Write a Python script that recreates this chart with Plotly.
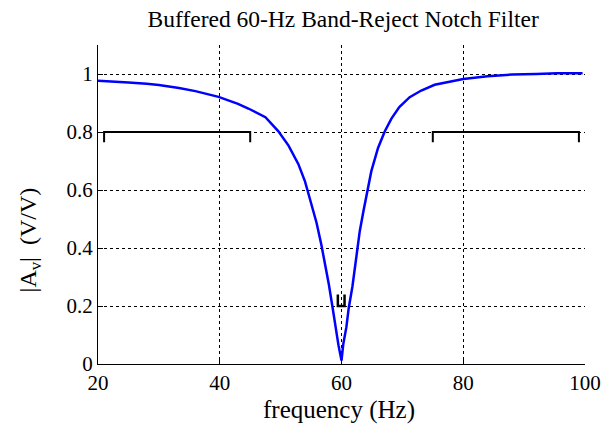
import plotly.graph_objects as go

freq_hz = [20, 22, 25, 28, 30, 33.3, 36, 39.8, 43, 44.7, 46, 47.5, 49.6, 51.3, 52.9,
           54.0, 54.4, 55.1, 55.9, 56.7, 57.3, 57.9, 58.5, 59.0, 59.5, 60.0, 60.3,
           60.8, 61.2, 61.8, 62.3, 62.6, 63.0, 63.6, 64.1, 64.9, 66.0, 67.1, 68.2,
           69.5, 71.2, 73.1, 75.3, 78.5, 80, 84, 88, 92, 95.4, 99.6]
gain_vv = [0.977, 0.975, 0.971, 0.966, 0.962, 0.952, 0.941, 0.921, 0.897, 0.881, 0.868,
           0.851, 0.803, 0.753, 0.690, 0.630, 0.600, 0.548, 0.487, 0.410, 0.345,
           0.277, 0.199, 0.130, 0.065, 0.012, 0.070, 0.127, 0.195, 0.268, 0.350,
           0.400, 0.458, 0.527, 0.585, 0.665, 0.745, 0.802, 0.846, 0.886, 0.920,
           0.943, 0.963, 0.978, 0.983, 0.992, 0.998, 1.000, 1.003, 1.003]

# Pass-band brackets
bracket_left_x = [21, 21, 45, 45]
bracket_right_x = [75, 75, 99, 99]
bracket_y = [0.765, 0.8, 0.8, 0.765]
# Small bracket at the notch
notch_x = [59.4, 59.4, 60.5, 60.5]
notch_y = [0.24, 0.2, 0.2, 0.24]

x_ticks = [20, 40, 60, 80, 100]
x_tick_text = ["20", "40", "60", "80", "100"]
y_ticks = [0, 0.2, 0.4, 0.6, 0.8, 1]
y_tick_text = ["0", "0.2", "0.4", "0.6", "0.8", "1"]

FONT = "Liberation Serif, Times New Roman, serif"


def serif(label):
    return "<span style=\"font-family:'Liberation Serif',serif\">" + label + "</span>"


fig = go.Figure()
fig.add_trace(go.Scatter(x=freq_hz, y=gain_vv, mode="lines",
                         line=dict(color="#0000ff", width=2.5)))
for bx in (bracket_left_x, bracket_right_x):
    fig.add_trace(go.Scatter(x=bx, y=bracket_y, mode="lines",
                             line=dict(color="black", width=2)))
fig.add_trace(go.Scatter(x=notch_x, y=notch_y, mode="lines",
                         line=dict(color="black", width=2.5)))

fig.update_layout(
    width=613, height=426,
    margin=dict(l=98, r=25, t=45, b=62),
    paper_bgcolor="white", plot_bgcolor="white",
    showlegend=False,
    font=dict(family=FONT, color="black", size=20),
    title=dict(text="Buffered 60-Hz Band-Reject Notch Filter",
               x=0.5598, xanchor="center", y=0.975, yanchor="top",
               font=dict(family=FONT, size=23.5, color="black")),
    annotations=[
        dict(text="|A<sub>v</sub>|  (V/V)", textangle=-90,
             xref="paper", yref="paper", x=-0.14, y=0.39,
             xanchor="center", yanchor="middle", showarrow=False,
             font=dict(family=FONT, size=24, color="black")),
        dict(text="frequency (Hz)",
             xref="paper", yref="paper", x=0.494, y=-0.145,
             xanchor="center", yanchor="middle", showarrow=False,
             font=dict(family=FONT, size=25, color="black")),
    ],
)
fig.update_xaxes(range=[20, 100], tickvals=x_ticks,
                 ticktext=[serif(t) for t in x_tick_text],
                 showline=True, linecolor="black",
                 linewidth=1, mirror=False, ticks="inside", ticklen=5, tickcolor="black",
                 showgrid=True, gridcolor="black", griddash="dot", gridwidth=1,
                 zeroline=False, tickfont=dict(family=FONT, size=21, color="black"))
fig.update_yaxes(range=[0, 1.1], tickvals=y_ticks,
                 ticktext=[serif(t) for t in y_tick_text], showline=True,
                 linecolor="black", linewidth=1, mirror=False, ticks="inside", ticklen=5,
                 tickcolor="black", showgrid=True, gridcolor="black", griddash="dot",
                 gridwidth=1, zeroline=False,
                 tickfont=dict(family=FONT, size=21, color="black"))

fig.write_html("out.html", config={"displayModeBar": False},
               post_script="document.body.style.margin='0';"
                           "document.body.style.overflow='hidden';")
